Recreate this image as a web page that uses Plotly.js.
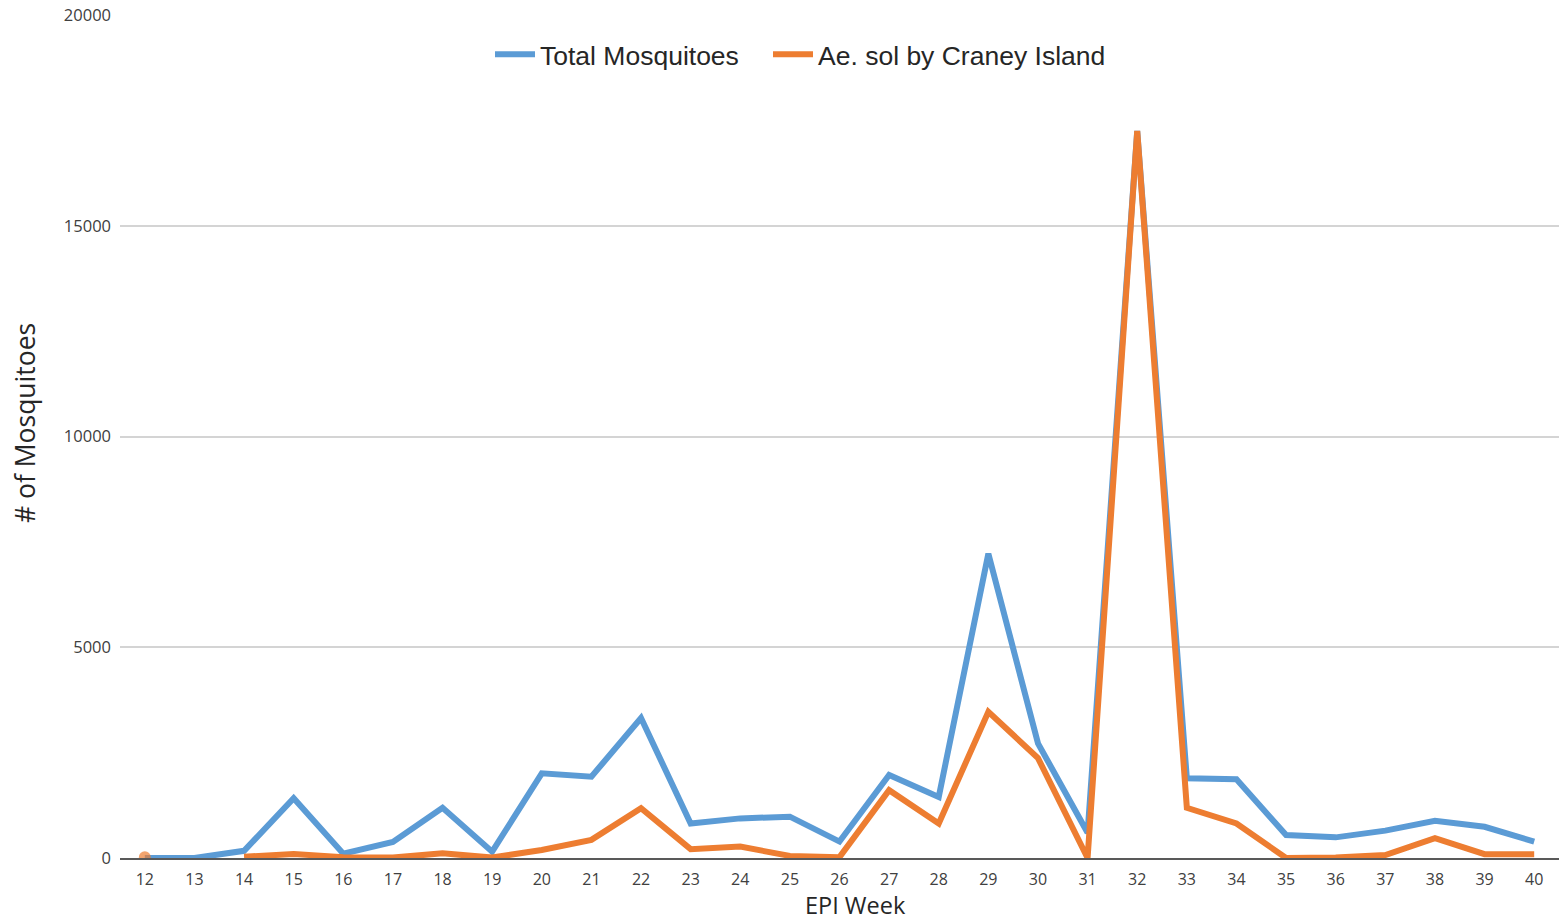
<!DOCTYPE html>
<html>
<head>
<meta charset="utf-8">
<script src="https://cdn.plot.ly/plotly-3.0.1.min.js"></script>
<style>html,body{margin:0;padding:0;background:#fff;}#chart{width:1559px;height:920px;}</style>
</head>
<body>
<div id="chart"></div>
<script>
const weeks = [12,13,14,15,16,17,18,19,20,21,22,23,24,25,26,27,28,29,30,31,32,33,34,35,36,37,38,39,40];
const totalMosquitoes = [0,0,170,1420,100,380,1190,150,2010,1930,3320,820,940,980,390,1970,1450,7220,2720,600,17250,1890,1870,545,490,650,885,740,390];
const aeSolCraney = [20,null,30,95,20,10,110,10,190,430,1180,210,270,50,20,1610,820,3470,2370,0,17250,1190,820,0,10,70,470,90,90];
const seriesNames = ["Total Mosquitoes", "Ae. sol by Craney Island"];
const yTicks = [0,5000,10000,15000,20000];

// show a marker only where a point is isolated (no neighbours), as Excel does
const isoSize = aeSolCraney.map((v,i)=>{
  if (v===null) return 0;
  const prev = i>0 ? aeSolCraney[i-1] : null;
  const next = i<aeSolCraney.length-1 ? aeSolCraney[i+1] : null;
  return (prev===null && next===null) ? 12 : 0;
});

const traces = [
  {x: weeks, y: totalMosquitoes, name: seriesNames[0], type:'scatter', mode:'lines',
   line:{color:'#5B9BD5', width:6}, legend:'legend'},
  {x: weeks, y: aeSolCraney, name: seriesNames[1], type:'scatter', mode:'lines+markers',
   line:{color:'#ED7D31', width:6}, marker:{color:'#ED7D31', size:isoSize, line:{width:0}},
   connectgaps:false, legend:'legend2'}
];

const legendFont = {family:'Liberation Sans, Arial, sans-serif', size:26.5, color:'#262626'};
const layout = {
  width:1559, height:920,
  margin:{l:120, r:0, t:15, b:62},
  paper_bgcolor:'#fff', plot_bgcolor:'#fff',
  showlegend:true,
  legend:{orientation:'h', x:(490-120)/1439, xanchor:'left', y:0.953, yanchor:'middle',
    font:legendFont, bgcolor:'rgba(0,0,0,0)', itemwidth:40},
  legend2:{orientation:'h', x:(768-120)/1439, xanchor:'left', y:0.953, yanchor:'middle',
    font:legendFont, bgcolor:'rgba(0,0,0,0)', itemwidth:40},
  xaxis:{
    range:[11.5,40.5], tickmode:'array', tickvals:weeks, ticktext:weeks.map(String),
    showgrid:false, zeroline:false, showline:true, linecolor:'#595959', linewidth:2,
    ticks:'', ticklabelstandoff:6,
    tickfont:{family:'Open Sans, sans-serif', size:16, color:'#404040'}
  },
  yaxis:{
    range:[0,20000], tickmode:'array', tickvals:yTicks, ticktext:yTicks.map(String),
    showgrid:true, gridcolor:'#d4d4d4', gridwidth:2, zeroline:false, showline:false,
    ticks:'', ticklabelstandoff:8,
    tickfont:{family:'Open Sans, sans-serif', size:16.5, color:'#404040'}
  },
  annotations:[
    {text:'EPI Week', xref:'paper', yref:'paper', x:(855-120)/1439, y:(858-904.5)/843,
     xanchor:'center', yanchor:'middle', showarrow:false, borderpad:0,
     font:{family:'Open Sans, sans-serif', size:23.5, color:'#262626'}},
    {text:'# of Mosquitoes', xref:'paper', yref:'paper', x:(25-120)/1439, y:(858-423)/843,
     xanchor:'center', yanchor:'middle', showarrow:false, textangle:-90,
     font:{family:'Open Sans, sans-serif', size:26.5, color:'#262626'}}
  ]
};

Plotly.newPlot('chart', traces, layout, {displayModeBar:false, staticPlot:true});
</script>
</body>
</html>
